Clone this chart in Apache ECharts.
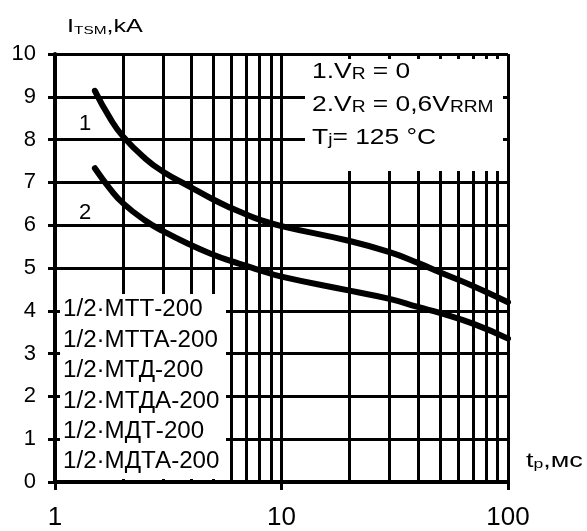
<!DOCTYPE html>
<html>
<head>
<meta charset="utf-8">
<script src="https://cdn.jsdelivr.net/npm/echarts@6/dist/echarts.min.js"></script>
<style>
  html, body { margin: 0; padding: 0; background: #fff; }
  #chart { width: 587px; height: 531px; }
</style>
</head>
<body>
<div id="chart"></div>
<script>
// Surge current I_TSM (kA) versus pulse duration t_p (ms)
const pulseMs  = [1.5, 1.75, 2, 2.5, 3, 4, 5, 6, 7, 8, 10, 20, 30, 40, 50, 70, 100];
const curve1kA = [9.14, 8.50, 8.07, 7.56, 7.25, 6.88, 6.60, 6.40, 6.25, 6.13, 5.98, 5.63, 5.37, 5.12, 4.90, 4.58, 4.20];
const curve2kA = [7.33, 6.85, 6.51, 6.11, 5.86, 5.53, 5.31, 5.16, 5.05, 4.95, 4.80, 4.47, 4.28, 4.09, 3.95, 3.70, 3.35];

// Intermediate log-decade grid lines
const minorGridX = [2, 3, 4, 5, 6, 7, 8, 9, 20, 30, 40, 50, 60, 70, 80, 90];

const xTickLabels = ['1', '10', '100'];
const yTickMax = 10;

const deviceTypes = ['1/2·МТТ-200', '1/2·МТТА-200', '1/2·МТД-200', '1/2·МТДА-200', '1/2·МДТ-200', '1/2·МДТА-200'];

const FONT = '"Liberation Sans", Arial, Helvetica, sans-serif';
const INK = '#000';

const chart = echarts.init(document.getElementById('chart'), null, { renderer: 'canvas' });

const pairs = (ys) => pulseMs.map((x, i) => [x, ys[i]]);

const tok = (size) => ({ fontSize: size, fontFamily: FONT, fill: INK, verticalAlign: 'bottom' });

// Text placed at (x, y), left-aligned and vertically centred, with a horizontal stretch
const label = (x, y, stretch, style) => ({
  type: 'text', z: 11, silent: true, x: x, y: y, scaleX: stretch,
  style: Object.assign({ x: 0, y: 0, fill: INK, align: 'left', verticalAlign: 'middle' }, style)
});

const graphic = [
  // white panel behind the conditions legend
  { type: 'rect', z: 10, silent: true, shape: { x: 305, y: 59, width: 198, height: 112 }, style: { fill: '#fff' } },
  // white panel behind the device list
  { type: 'rect', z: 10, silent: true, shape: { x: 60, y: 294, width: 166, height: 185 }, style: { fill: '#fff' } },

  label(312, 72, 1.2, { text: '{b|1.V}{s|R}{b| = 0}', rich: { b: tok(22), s: tok(16) } }),
  label(312, 105, 1.2, { text: '{b|2.V}{s|R}{b| = 0,6V}{s|RRM}', rich: { b: tok(22), s: tok(16) } }),
  label(312, 138, 1.2, { text: '{b|T}{s|j}{b|= 125 °C}', rich: { b: tok(22), s: tok(16) } }),

  // axis titles
  label(67, 27, 1.4, { text: '{b|I}{s|TSM}{b|,kA}', rich: { b: tok(18), s: tok(11) } }),
  label(526, 461, 1.35, { text: '{b|t}{s|p}{b|,мс}', rich: { b: tok(20), s: tok(13) } }),

  // curve numbers
  { type: 'text', z: 11, silent: true, style: { x: 85, y: 124, text: '1', font: '22px ' + FONT, fill: INK, align: 'center', verticalAlign: 'middle' } },
  { type: 'text', z: 11, silent: true, style: { x: 85, y: 213, text: '2', font: '22px ' + FONT, fill: INK, align: 'center', verticalAlign: 'middle' } }
];

// device list rows
deviceTypes.forEach((name, i) => {
  graphic.push(label(63, 310 + i * 30.4, 1.05, { text: name, font: '23px ' + FONT }));
});

const option = {
  backgroundColor: '#fff',
  animation: false,
  grid: { left: 55, right: 79, top: 54, bottom: 47, containLabel: false },
  xAxis: {
    type: 'log',
    logBase: 10,
    min: 1,
    max: 100,
    axisLine: { show: true, lineStyle: { color: INK, width: 4 } },
    axisTick: { show: true, inside: false, length: 8, lineStyle: { color: INK, width: 3 } },
    axisLabel: {
      color: INK, fontSize: 26, fontFamily: FONT, margin: 23,
      formatter: (v) => xTickLabels.find((t) => Number(t) === Math.round(v)) || ''
    },
    splitLine: { show: true, lineStyle: { color: INK, width: 3 } },
    minorTick: { show: false },
    minorSplitLine: { show: false }
  },
  yAxis: {
    type: 'value',
    min: 0,
    max: yTickMax,
    interval: 1,
    axisLine: { show: true, lineStyle: { color: INK, width: 4 } },
    axisTick: { show: true, length: 7, lineStyle: { color: INK, width: 3 } },
    axisLabel: { color: INK, fontSize: 22, fontFamily: FONT, margin: 19 },
    splitLine: { show: true, lineStyle: { color: INK, width: 3 } }
  },
  graphic: graphic,
  series: [
    {
      name: 'grid',
      type: 'line',
      data: [],
      z: 1,
      silent: true,
      markLine: {
        silent: true,
        symbol: ['none', 'none'],
        label: { show: false },
        lineStyle: { color: INK, width: 3, type: 'solid' },
        emphasis: { disabled: true },
        data: minorGridX.map((x) => ({ xAxis: x }))
      }
    },
    {
      name: '1',
      type: 'line',
      data: pairs(curve1kA),
      smooth: 0.5,
      showSymbol: false,
      z: 20,
      lineStyle: { color: INK, width: 6, cap: 'round' }
    },
    {
      name: '2',
      type: 'line',
      data: pairs(curve2kA),
      smooth: 0.5,
      showSymbol: false,
      z: 20,
      lineStyle: { color: INK, width: 6, cap: 'round' }
    }
  ]
};

chart.setOption(option);
</script>
</body>
</html>
